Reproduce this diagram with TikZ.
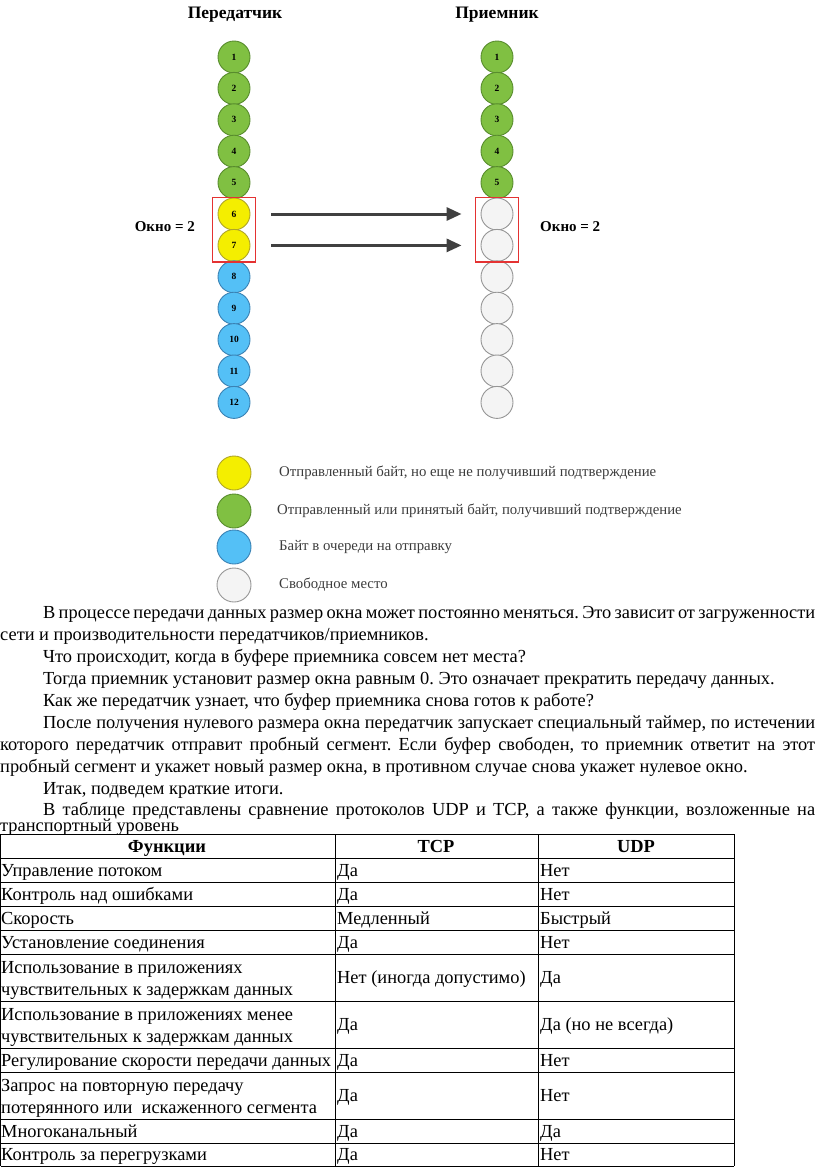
\documentclass[tikz,border=0pt]{standalone}
\usepackage{fontspec}
\setmainfont{Liberation Serif}
\usetikzlibrary{arrows.meta,fit}
\definecolor{gfill}{RGB}{128,192,66}
\definecolor{gdraw}{RGB}{88,140,45}
\definecolor{yfill}{RGB}{244,238,0}
\definecolor{ydraw}{RGB}{175,165,40}
\definecolor{bfill}{RGB}{84,192,246}
\definecolor{bdraw}{RGB}{58,130,180}
\definecolor{wfill}{RGB}{244,244,244}
\definecolor{wdraw}{RGB}{150,150,150}
\definecolor{winred}{RGB}{228,50,50}
\definecolor{arrowc}{RGB}{64,64,64}
\definecolor{legtext}{RGB}{60,60,60}
\frenchspacing
\begin{document}
\begin{tikzpicture}[x=1pt,y=-1pt,
  ball/.style={circle, minimum size=32pt, inner sep=0pt, line width=0.9pt, font=\fontsize{9.5}{9.5}\selectfont\bfseries},
  gball/.style={ball, fill=gfill, draw=gdraw},
  yball/.style={ball, fill=yfill, draw=ydraw},
  bball/.style={ball, fill=bfill, draw=bdraw},
  wball/.style={ball, fill=wfill, draw=wdraw},
  legball/.style={minimum size=34pt},
  win/.style={draw=winred, line width=1.4pt, inner xsep=5pt, inner ysep=0pt},
  sendarrow/.style={-{Triangle[length=15pt,width=13pt]}, line width=3pt, draw=arrowc, shorten <=21pt, shorten >=19pt},
  title/.style={font=\fontsize{17.5}{20}\selectfont\bfseries, inner sep=0pt},
  oknotxt/.style={font=\fontsize{15}{18}\selectfont\bfseries, inner sep=0pt},
  legtxt/.style={font=\fontsize{14.8}{18}\selectfont, text=legtext, anchor=west, inner sep=0pt},
  body/.style={font=\fontsize{18.4}{22}\selectfont, anchor=base west, inner sep=0pt},
  cell/.style={font=\fontsize{18.4}{22}\selectfont, anchor=base west, inner sep=0pt, align=left},
  head/.style={font=\fontsize{18.4}{22}\selectfont\bfseries, anchor=base, inner sep=0pt},
  grid/.style={line width=1pt, draw=black}
]
\useasboundingbox (0,0) rectangle (816,1167);
% titles
\node[title] (tsend) at (235,15) {Передатчик};
\node[title] (trecv) at (497,15) {Приемник};
% sender column
\foreach \i/\st in {1/gball,2/gball,3/gball,4/gball,5/gball,6/yball,7/yball,8/bball,9/bball,10/bball,11/bball,12/bball}{
  \node[\st] (s\i) at (234,{57+(\i-1)*31.4}) {\i};
}
% receiver column
\foreach \i/\st/\lab in {1/gball/1,2/gball/2,3/gball/3,4/gball/4,5/gball/5,6/wball/,7/wball/,8/wball/,9/wball/,10/wball/,11/wball/,12/wball/}{
  \node[\st] (r\i) at (497,{57+(\i-1)*31.4}) {\lab};
}
\node[win, fit=(s6)(s7)] (wins) {};
\node[win, fit=(r6)(r7)] (winr) {};
\draw[sendarrow] (s6) -- (r6);
\draw[sendarrow] (s7) -- (r7);
\node[oknotxt, anchor=east] (oks) at (195,227) {Окно = 2};
\node[oknotxt, anchor=west] (okr) at (540,227) {Окно = 2};
% legend
\node[yball, legball] (l1) at (234,473) {};
\node[gball, legball] (l2) at (234,511) {};
\node[bball, legball] (l3) at (234,547) {};
\node[wball, legball] (l4) at (234,585) {};
\node[legtxt] (lt1) at (279,473) {Отправленный байт, но еще не получивший подтверждение};
\node[legtxt] (lt2) at (277,511) {Отправленный или принятый байт, получивший подтверждение};
\node[legtxt] (lt3) at (279,547) {Байт в очереди на отправку};
\node[legtxt] (lt4) at (279,585) {Свободное место};
% paragraph
\node[body] (p1) at (43,618) {\makebox[772pt][s]{В процессе передачи данных размер окна может постоянно меняться. Это зависит от загруженности}};
\node[body] (p2) at (0,640) {сети и производительности передатчиков/приемников.};
\node[body] (p3) at (43,662) {Что происходит, когда в буфере приемника совсем нет места?};
\node[body] (p4) at (43,684) {Тогда приемник установит размер окна равным 0. Это означает прекратить передачу данных.};
\node[body] (p5) at (43,706) {Как же передатчик узнает, что буфер приемника снова готов к работе?};
\node[body] (p6) at (43,728) {\makebox[772pt][s]{После получения нулевого размера окна передатчик запускает специальный таймер, по истечении}};
\node[body] (p7) at (0,750) {\makebox[815pt][s]{которого передатчик отправит пробный сегмент. Если буфер свободен, то приемник ответит на этот}};
\node[body] (p8) at (0,772) {пробный сегмент и укажет новый размер окна, в противном случае снова укажет нулевое окно.};
\node[body] (p9) at (43,794) {Итак, подведем краткие итоги.};
\node[body] (p10) at (43,815) {\makebox[772pt][s]{В таблице представлены сравнение протоколов UDP и TCP, а также функции, возложенные на}};
\node[body] (p11) at (0,831) {транспортный уровень};
% table
\fill[white] (0,834) rectangle (734,1166);
\foreach \y in {834,858,882,906,930,954,1001,1048,1072,1119,1143,1166}{
  \draw[grid] (0.5,\y) -- (734,\y);
}
\foreach \x in {0.5,335,538,734}{
  \draw[grid] (\x,834) -- (\x,1166);
}
\node[head] (h1) at (167,852) {Функции};
\node[head] (h2) at (436,852) {TCP};
\node[head] (h3) at (636,852) {UDP};
% rows: name, tcp, udp
\node[cell] (a1) at (1,876) {Управление потоком};
\node[cell] (b1) at (337,876) {Да};
\node[cell] (c1) at (540,876) {Нет};
\node[cell] (a2) at (1,900) {Контроль над ошибками};
\node[cell] (b2) at (337,900) {Да};
\node[cell] (c2) at (540,900) {Нет};
\node[cell] (a3) at (1,924) {Скорость};
\node[cell] (b3) at (337,924) {Медленный};
\node[cell] (c3) at (540,924) {Быстрый};
\node[cell] (a4) at (1,948) {Установление соединения};
\node[cell] (b4) at (337,948) {Да};
\node[cell] (c4) at (540,948) {Нет};
\node[cell] (a5) at (1,995) {Использование в приложениях\\чувствительных к задержкам данных};
\node[cell] (b5) at (337,983.5) {Нет (иногда допустимо)};
\node[cell] (c5) at (540,983.5) {Да};
\node[cell] (a6) at (1,1042) {Использование в приложениях менее\\чувствительных к задержкам данных};
\node[cell] (b6) at (337,1030.5) {Да};
\node[cell] (c6) at (540,1030.5) {Да (но не всегда)};
\node[cell] (a7) at (1,1066) {Регулирование скорости передачи данных};
\node[cell] (b7) at (337,1066) {Да};
\node[cell] (c7) at (540,1066) {Нет};
\node[cell] (a8) at (1,1113) {Запрос на повторную передачу\\потерянного или\ \ искаженного сегмента};
\node[cell] (b8) at (337,1101.5) {Да};
\node[cell] (c8) at (540,1101.5) {Нет};
\node[cell] (a9) at (1,1137) {Многоканальный};
\node[cell] (b9) at (337,1137) {Да};
\node[cell] (c9) at (540,1137) {Да};
\node[cell] (a10) at (1,1160.5) {Контроль за перегрузками};
\node[cell] (b10) at (337,1160.5) {Да};
\node[cell] (c10) at (540,1160.5) {Нет};
\end{tikzpicture}
\end{document}
